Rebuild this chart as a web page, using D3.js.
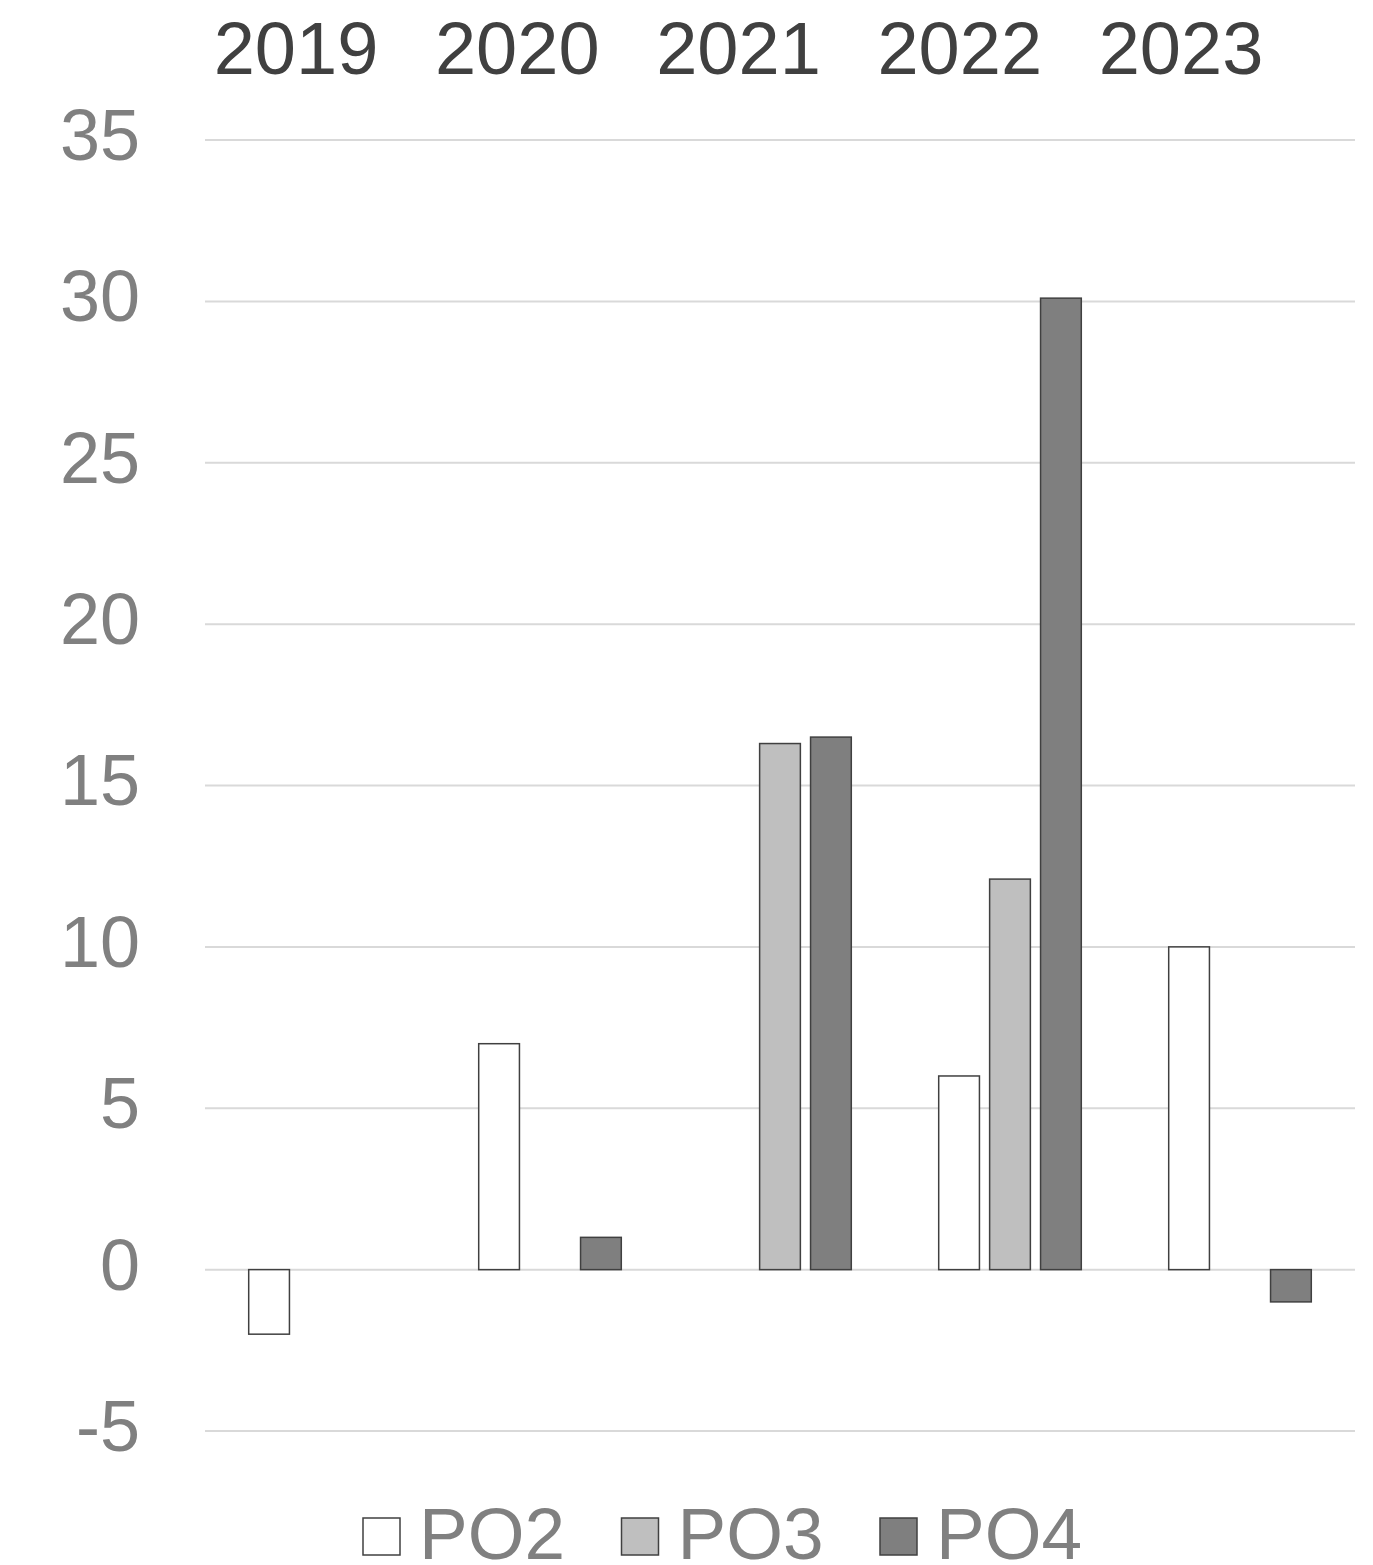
<!DOCTYPE html>
<html>
<head>
<meta charset="utf-8">
<script src="https://cdn.jsdelivr.net/npm/d3@7"></script>
<style>
  html, body { margin: 0; padding: 0; background: #fff; }
  svg text { font-family: "Liberation Sans", Arial, sans-serif; }
</style>
</head>
<body>
<svg id="chart" width="1373" height="1565"></svg>
<script>
const years = ["2019", "2020", "2021", "2022", "2023"];
const seriesNames = ["PO2", "PO3", "PO4"];
const po2 = [-2, 7, null, 6, 10];
const po3 = [null, null, 16.3, 12.1, null];
const po4 = [null, 1, 16.5, 30.1, -1];
const yTicks = [-5, 0, 5, 10, 15, 20, 25, 30, 35];
const seriesColors = ["#ffffff", "#bfbfbf", "#7f7f7f"];

const seriesValues = [po2, po3, po4];
const rows = [];
years.forEach((yr, i) => {
  seriesNames.forEach((s, j) => {
    const v = seriesValues[j][i];
    if (v !== null && v !== undefined) rows.push({ year: yr, series: s, value: v, idx: j });
  });
});

const svg = d3.select("#chart");
const plotLeft = 205, plotRight = 1355, plotTop = 140, plotBottom = 1431;

const y = d3.scaleLinear().domain([-5, 35]).range([plotBottom, plotTop]);
const x0 = d3.scaleBand().domain(years).range([plotLeft, plotRight]).padding(0);
const bw = x0.bandwidth();
const x1 = d3.scaleBand().domain(seriesNames).range([bw * 0.19, bw * 0.81]).paddingInner(0.2);

// gridlines
svg.append("g").selectAll("line").data(yTicks).join("line")
  .attr("x1", plotLeft).attr("x2", plotRight)
  .attr("y1", d => y(d)).attr("y2", d => y(d))
  .attr("stroke", "#d9d9d9").attr("stroke-width", 2);

// y axis labels
const yAxis = d3.axisLeft(y).tickValues(yTicks).tickSize(0).tickPadding(0)
  .tickFormat(d => String(d));
const gy = svg.append("g").attr("transform", `translate(140,0)`).call(yAxis);
gy.select(".domain").remove();
gy.selectAll("text")
  .attr("font-size", 72)
  .attr("fill", "#808080")
  .attr("dy", "0.27em")
  .style("font-family", '"Liberation Sans", Arial, sans-serif');

// top year labels (positioned as in the reference, slightly left of bands)
const xTop = d3.scalePoint().domain(years).range([296, 1181]);
svg.append("g").selectAll("text").data(years).join("text")
  .attr("x", d => xTop(d)).attr("y", 74)
  .attr("text-anchor", "middle")
  .attr("font-size", 74)
  .attr("fill", "#404040")
  .text(d => d);

// bars
svg.append("g").selectAll("rect").data(rows).join("rect")
  .attr("x", d => x0(d.year) + x1(d.series))
  .attr("width", x1.bandwidth())
  .attr("y", d => y(Math.max(0, d.value)))
  .attr("height", d => Math.abs(y(d.value) - y(0)))
  .attr("fill", d => seriesColors[d.idx])
  .attr("stroke", "#404040")
  .attr("stroke-width", 1.5);

// legend
const legX = d3.scalePoint().domain(seriesNames).range([363, 880]);
const leg = svg.append("g").selectAll("g").data(seriesNames).join("g")
  .attr("transform", d => `translate(${legX(d)},1518)`);
leg.append("rect")
  .attr("width", 37).attr("height", 37)
  .attr("fill", (d, i) => seriesColors[i])
  .attr("stroke", "#404040").attr("stroke-width", 1.5);
leg.append("text")
  .attr("x", 56).attr("y", 41)
  .attr("font-size", 73)
  .attr("fill", "#808080")
  .text(d => d);
</script>
</body>
</html>
